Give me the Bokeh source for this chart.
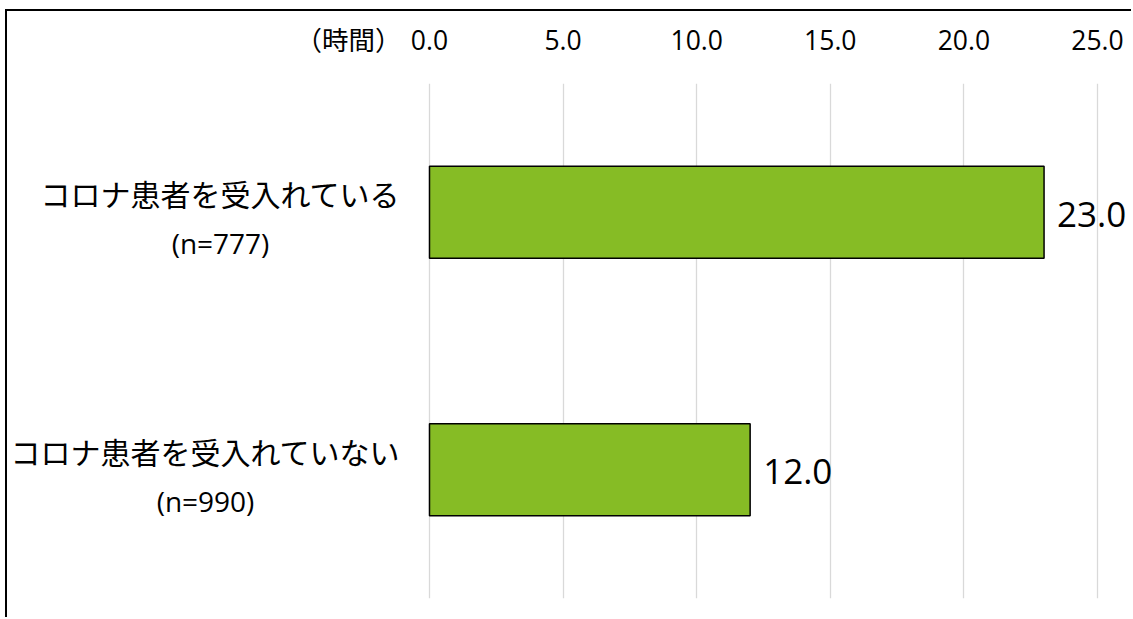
from bokeh.plotting import figure
from bokeh.models import (FactorRange, Range1d, FixedTicker, ColumnDataSource,
                          CustomJSTickFormatter)
from bokeh.embed import file_html
from bokeh.resources import INLINE
from bokeh.core.properties import value

# --- data -------------------------------------------------------------
groups = ["コロナ患者を受入れている", "コロナ患者を受入れていない"]
sample_sizes = ["(n=777)", "(n=990)"]
hours = [23.0, 12.0]
tick_values = [0, 5, 10, 15, 20, 25]
axis_unit = "（時間）"

# --- layout constants (page pixels) -----------------------------------
PAGE_W, PAGE_H = 1133, 619
OX, OY = 7, 11          # canvas origin, inside the black chart-area border
W, H = PAGE_W - OX, PAGE_H - OY

ZERO_PX = 429 - OX      # position of the 0 gridline on the canvas
PX_PER_HOUR = 26.72     # horizontal scale
TOP = 83 - OY           # frame top
BOTTOM = H - (598 - OY) # frame bottom margin
LABEL_RIGHT = 400 - OX  # right edge of the category label block
CAPTION_PX = 348 - OX   # centre of the unit caption
CAT_FS = 30             # category label font size

BAR_GREEN = "#86BC25"
GRID_GREY = "#D9D9D9"

cat_font = value("Noto Sans CJK JP")
num_font = value("Open Sans")

src = ColumnDataSource(dict(
    group=groups,
    n=sample_sizes,
    hours=hours,
    hours_text=[f"{h:.1f}" for h in hours],
    # centre of the sample-size line beneath each category name
    n_offset=[-(ZERO_PX - LABEL_RIGHT) - len(g) * CAT_FS / 2 for g in groups],
))

p = figure(
    width=W, height=H,
    output_backend="svg", toolbar_location=None,
    y_range=FactorRange(factors=groups[::-1]),
    x_range=Range1d(-ZERO_PX / PX_PER_HOUR, (W - ZERO_PX) / PX_PER_HOUR),
    x_axis_location="above", y_axis_location=None,
    min_border_left=0, min_border_right=0,
    min_border_top=TOP, min_border_bottom=BOTTOM,
)
p.outline_line_color = None
p.background_fill_color = "white"
p.border_fill_color = "white"
# chart-area border: only its top and left edges fall inside the page
p.styles = {
    "border-left": "2px solid black",
    "border-top": "2px solid black",
    "margin-left": f"{OX - 2}px",
    "margin-top": f"{OY - 2}px",
}

# top axis: hour ticks plus the unit caption at its left end
caption_x = (CAPTION_PX - ZERO_PX) / PX_PER_HOUR
ax = p.xaxis[0]
ax.ticker = FixedTicker(ticks=[caption_x] + tick_values)
ax.formatter = CustomJSTickFormatter(
    args=dict(cap=caption_x, unit=axis_unit),
    code="return Math.abs(tick - cap) < 1e-6 ? unit : tick.toFixed(1);",
)
ax.axis_line_color = None
ax.major_tick_line_color = None
ax.minor_tick_line_color = None
ax.major_tick_out = 0
ax.major_label_standoff = 26
ax.major_label_text_font = "Open Sans, Noto Sans CJK JP"
ax.major_label_text_font_size = "26.5px"
ax.major_label_text_color = "black"

p.xgrid.ticker = FixedTicker(ticks=tick_values)
p.xgrid.grid_line_color = GRID_GREY
p.xgrid.grid_line_width = 1.3
p.ygrid.visible = False

# bars
p.hbar(y="group", left=0, right="hours", height=0.357, source=src,
       fill_color=BAR_GREEN, line_color="black", line_width=1.5)

# value labels
p.text(x="hours", y="group", text="hours_text", source=src,
       x_offset=13, y_offset=2, text_align="left", text_baseline="middle",
       text_font=num_font, text_font_size="35px", text_color="black")

# category labels: name line, then sample size centred beneath
p.text(x=0, y="group", text="group", source=src,
       x_offset=-(ZERO_PX - LABEL_RIGHT), y_offset=-19,
       text_align="right", text_baseline="middle",
       text_font=cat_font, text_font_size=f"{CAT_FS}px", text_color="black")
p.text(x=0, y="group", text="n", source=src,
       x_offset="n_offset", y_offset=31,
       text_align="center", text_baseline="middle",
       text_font=num_font, text_font_size="28px", text_color="black")

open("out.html", "w").write(file_html(p, INLINE))
